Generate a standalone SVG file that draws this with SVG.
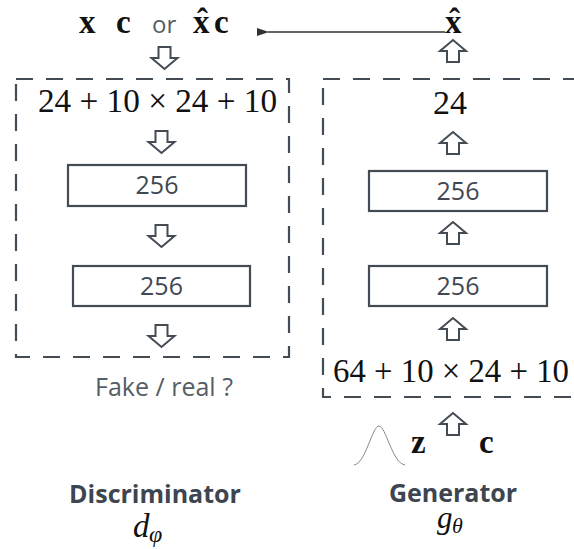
<svg xmlns="http://www.w3.org/2000/svg" width="574" height="549" viewBox="0 0 574 549">
<style>
.dash{fill:none;stroke:#434b55;stroke-width:2.2;stroke-dasharray:17 13}
.box{fill:#fff;stroke:#434b55;stroke-width:2.2}
.harrow{fill:#fff;stroke:#434b55;stroke-width:2;stroke-linejoin:miter}
.num{font-family:"Open Sans",sans-serif;font-size:25px;fill:#3f4853;text-anchor:middle}
.math{font-family:"Liberation Serif",serif;font-size:34px;fill:#111}
.bold{font-family:"Liberation Serif",serif;font-weight:bold;font-size:33px;fill:#111}
.lbl{font-family:"Open Sans",sans-serif;font-weight:bold;font-size:25px;fill:#3d4550;text-anchor:middle}
.it{font-family:"Liberation Serif",serif;font-style:italic;fill:#111}
</style>
<defs>
<marker id="ah" viewBox="0 0 12 8" refX="1" refY="4" markerWidth="12" markerHeight="8" markerUnits="userSpaceOnUse" orient="auto">
<path d="M12,0 L0,4 L12,8 z" fill="#333"/>
</marker>
<path id="down" d="M-6,0 L6,0 L6,11 L13,11 L0,22 L-13,11 L-6,11 z"/>
<path id="up" d="M-6,22 L6,22 L6,11 L13,11 L0,0 L-13,11 L-6,11 z"/>
</defs>
<rect width="574" height="549" fill="#fff"/>

<g id="connectors">
<line x1="445" y1="32" x2="268" y2="32" stroke="#333" stroke-width="1.6" marker-end="url(#ah)"/>
<use href="#down" class="harrow" x="164.5" y="47"/>
<use href="#down" class="harrow" x="161.5" y="131"/>
<use href="#down" class="harrow" x="161.5" y="225"/>
<use href="#down" class="harrow" x="161.5" y="325"/>
<use href="#up" class="harrow" x="453" y="40"/>
<use href="#up" class="harrow" x="453" y="132"/>
<use href="#up" class="harrow" x="453" y="222"/>
<use href="#up" class="harrow" x="453" y="318"/>
<use href="#up" class="harrow" x="453" y="413"/>
</g>

<g id="input">
<text class="bold" x="79" y="33">x</text>
<text class="bold" x="116" y="33">c</text>
<text x="152" y="33" font-family="Open Sans,sans-serif" font-size="24" fill="#555d66">or</text>
<text class="bold" x="193" y="33">x<tspan dx="-12.5" dy="-1">ˆ</tspan><tspan dx="6" dy="1">c</tspan></text>
</g>

<g id="xhat">
<text class="bold" x="445" y="33">x<tspan dx="-12.5" dy="-1">ˆ</tspan></text>
</g>

<g id="discriminator">
<rect class="dash" x="16" y="79" width="273" height="278"/>
<text class="math" x="38" y="112" textLength="239" lengthAdjust="spacingAndGlyphs">24 + 10 × 24 + 10</text>
</g>
<g id="d-layer1">
<rect class="box" x="68" y="165" width="178" height="41"/>
<text class="num" x="157" y="194">256</text>
</g>
<g id="d-layer2">
<rect class="box" x="73" y="266" width="177" height="40"/>
<text class="num" x="161.5" y="295">256</text>
</g>
<g id="d-output">
<text x="164" y="396" font-family="Open Sans,sans-serif" font-size="25" fill="#555d66" text-anchor="middle">Fake / real ?</text>
</g>

<g id="generator">
<rect class="dash" x="323" y="79" width="280" height="318"/>
<text class="math" x="450" y="114" text-anchor="middle">24</text>
<text class="math" x="333" y="382" textLength="236" lengthAdjust="spacingAndGlyphs">64 + 10 × 24 + 10</text>
</g>
<g id="g-layer1">
<rect class="box" x="369" y="171" width="178" height="40"/>
<text class="num" x="458" y="200">256</text>
</g>
<g id="g-layer2">
<rect class="box" x="369" y="266" width="178" height="40"/>
<text class="num" x="458" y="295">256</text>
</g>

<g id="noise">
<path d="M354,465 C366,463 372,426 379,426 C386,426 392,463 405,465" fill="none" stroke="#888" stroke-width="1"/>
<text class="bold" x="411" y="453">z</text>
<text class="bold" x="479" y="453">c</text>
</g>

<g id="labels">
<text class="lbl" x="155" y="503">Discriminator</text>
<text class="it" x="133" y="537" font-size="33">d</text>
<text class="it" x="149" y="542" font-size="24">φ</text>
<text class="lbl" x="453" y="502">Generator</text>
<text class="it" x="437" y="528" font-size="31">g</text>
<text class="it" x="452" y="533" font-size="22">θ</text>
</g>
</svg>
